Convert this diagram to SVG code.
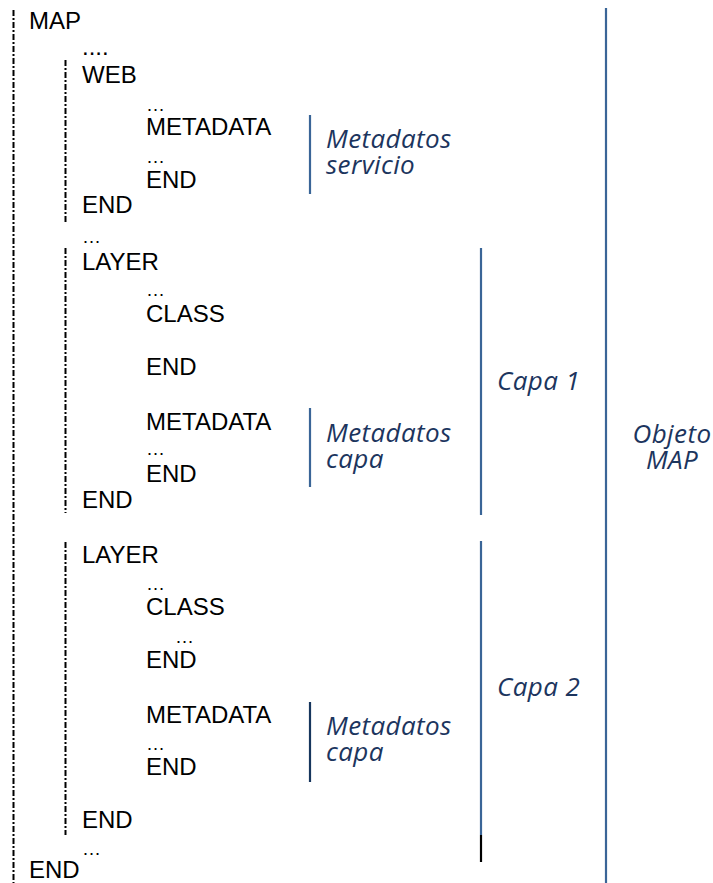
<svg xmlns="http://www.w3.org/2000/svg" width="713" height="883" viewBox="0 0 713 883">
<style>
.code{font-family:"Liberation Sans",Arial,sans-serif;font-size:24px;fill:#000}
.dots{font-family:"Liberation Sans",Arial,sans-serif;font-size:19px;fill:#000}
.lbl{font-family:"Open Sans","Noto Sans",sans-serif;font-style:italic;font-size:26px;letter-spacing:0.4px;fill:#1c355e}
.dash{stroke:#000;stroke-width:2;stroke-dasharray:6 2 2 2;fill:none}
.bar{stroke:#3a6597;stroke-width:2.2;fill:none}
</style>
<rect width="713" height="883" fill="#fff"/>
<g id="connectors">
<line class="dash" x1="13.5" y1="10" x2="13.5" y2="883"/>
<line class="dash" x1="65.5" y1="60" x2="65.5" y2="222"/>
<line class="dash" x1="65.5" y1="248" x2="65.5" y2="513"/>
<line class="dash" x1="65.5" y1="542" x2="65.5" y2="835"/>
<line class="bar" x1="310" y1="115" x2="310" y2="194"/>
<line class="bar" x1="310" y1="408" x2="310" y2="487"/>
<line class="bar" x1="310" y1="702" x2="310" y2="782" style="stroke:#17365d"/>
<line class="bar" x1="481" y1="248" x2="481" y2="515"/>
<line class="bar" x1="481" y1="541" x2="481" y2="835"/>
<line x1="481" y1="835" x2="481" y2="862" stroke="#000" stroke-width="2.2"/>
<line class="bar" x1="606" y1="8" x2="606" y2="883"/>
</g>
<g id="code">
<text class="code" x="29" y="29">MAP</text>
<text class="code" x="82" y="55">....</text>
<text class="code" x="82" y="83">WEB</text>
<text class="dots" x="146" y="111">…</text>
<text class="code" x="146" y="135">METADATA</text>
<text class="dots" x="146" y="163">…</text>
<text class="code" x="146" y="188">END</text>
<text class="code" x="82" y="213">END</text>
<text class="dots" x="82" y="243">…</text>
<text class="code" x="82" y="270">LAYER</text>
<text class="dots" x="146" y="296">…</text>
<text class="code" x="146" y="322">CLASS</text>
<text class="code" x="146" y="375">END</text>
<text class="code" x="146" y="430">METADATA</text>
<text class="dots" x="146" y="455">…</text>
<text class="code" x="146" y="482">END</text>
<text class="code" x="82" y="508">END</text>
<text class="code" x="82" y="563">LAYER</text>
<text class="dots" x="146" y="590">…</text>
<text class="code" x="146" y="615">CLASS</text>
<text class="dots" x="175" y="643">…</text>
<text class="code" x="146" y="668">END</text>
<text class="code" x="146" y="723">METADATA</text>
<text class="dots" x="146" y="750">…</text>
<text class="code" x="146" y="775">END</text>
<text class="code" x="82" y="828">END</text>
<text class="dots" x="82" y="855">…</text>
<text class="code" x="29" y="878">END</text>
</g>
<g id="meta-servicio"><text class="lbl" x="326" y="148">Metadatos</text><text class="lbl" x="326" y="174">servicio</text></g>
<g id="meta-capa1"><text class="lbl" x="326" y="442">Metadatos</text><text class="lbl" x="326" y="468">capa</text></g>
<g id="meta-capa2"><text class="lbl" x="326" y="735">Metadatos</text><text class="lbl" x="326" y="761">capa</text></g>
<g id="capa1"><text class="lbl" x="497" y="390">Capa 1</text></g>
<g id="capa2"><text class="lbl" x="497" y="696">Capa 2</text></g>
<g id="objeto"><text class="lbl" x="672" y="443" text-anchor="middle">Objeto</text><text class="lbl" x="672" y="469" text-anchor="middle">MAP</text></g>
</svg>
